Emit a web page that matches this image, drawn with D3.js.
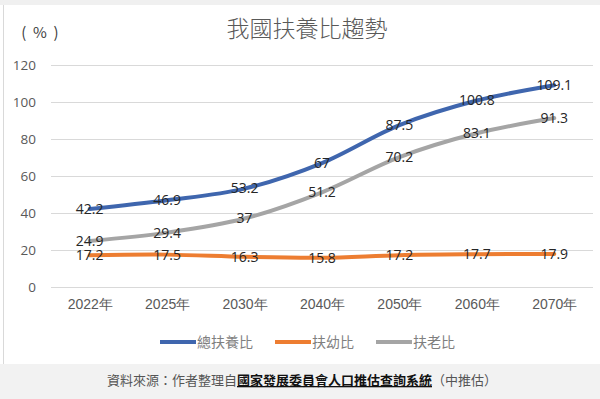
<!DOCTYPE html>
<html>
<head>
<meta charset="utf-8">
<script src="https://cdn.jsdelivr.net/npm/d3@7"></script>
<style>
  body { margin: 0; background: #fff; }
  svg { display: block; font-family: "Noto Sans CJK TC", "Noto Sans", sans-serif; }
</style>
</head>
<body>
<div id="wrapper"></div>
<script>
// data
const years = ["2022年", "2025年", "2030年", "2040年", "2050年", "2060年", "2070年"];
const totalRatio = [42.2, 46.9, 53.2, 67, 87.5, 100.8, 109.1];
const youngRatio = [17.2, 17.5, 16.3, 15.8, 17.2, 17.7, 17.9];
const oldRatio = [24.9, 29.4, 37, 51.2, 70.2, 83.1, 91.3];
const seriesNames = ["總扶養比", "扶幼比", "扶老比"];
const yTicks = [0, 20, 40, 60, 80, 100, 120];

const colors = ["#3f66ae", "#ed7d31", "#a5a5a5"];
const series = [totalRatio, youngRatio, oldRatio].map((v, i) => ({name: seriesNames[i], values: v, color: colors[i]}));

const dimensions = {
  width: 600,
  height: 399,
  margin: {top: 65, left: 51, bottom: 112, right: 7}
};
dimensions.boundedWidth = dimensions.width - dimensions.margin.left - dimensions.margin.right;
dimensions.boundedHeight = dimensions.height - dimensions.margin.top - dimensions.margin.bottom;

const wrapper = d3.select("#wrapper").append("svg")
  .attr("width", dimensions.width)
  .attr("height", dimensions.height);

// page background bits
wrapper.append("rect").attr("x", 0).attr("y", 0).attr("width", 600).attr("height", 5).attr("fill", "#f0f0f0");
wrapper.append("rect").attr("x", 0).attr("y", 364).attr("width", 600).attr("height", 35).attr("fill", "#f2f2f2");
wrapper.append("line").attr("x1", 3.5).attr("x2", 3.5).attr("y1", 5).attr("y2", 364).attr("stroke", "#d9d9d9");

const container = wrapper.append("g")
  .attr("transform", `translate(${dimensions.margin.left}, ${dimensions.margin.top})`);

const xScale = d3.scalePoint().domain(years).range([0, dimensions.boundedWidth]).padding(0.5);
const yScale = d3.scaleLinear().domain([0, 120]).range([dimensions.boundedHeight, 0]);

// gridlines
container.append("g")
  .selectAll("line")
  .data(yTicks)
  .join("line")
  .attr("x1", 0)
  .attr("x2", dimensions.boundedWidth)
  .attr("y1", d => Math.round(yScale(d)) + 0.5)
  .attr("y2", d => Math.round(yScale(d)) + 0.5)
  .attr("stroke", "#d9d9d9");

// y axis
const yAxis = container.append("g")
  .attr("transform", "translate(-15, 0)")
  .call(d3.axisLeft(yScale).tickValues(yTicks).tickSize(0).tickPadding(0));
yAxis.select(".domain").remove();
yAxis.selectAll("text").attr("fill", "#595959").style("font-size", "13.5px").style("font-family", "'Open Sans', sans-serif");

// x axis
const xAxis = container.append("g")
  .attr("transform", `translate(0, ${dimensions.boundedHeight + 12})`)
  .call(d3.axisBottom(xScale).tickSize(0).tickPadding(0));
xAxis.select(".domain").remove();
xAxis.selectAll("text").attr("fill", "#595959").style("font-size", "14px");

// lines
const line = d3.line()
  .x((d, i) => xScale(years[i]))
  .y(d => yScale(d))
  .curve(d3.curveCatmullRom.alpha(0.5));

container.selectAll(".series")
  .data(series)
  .join("path")
  .attr("class", "series")
  .attr("fill", "none")
  .attr("stroke", d => d.color)
  .attr("stroke-width", 4)
  .attr("stroke-linecap", "round")
  .attr("d", d => line(d.values));

// data labels (centered on the points, like the original)
series.forEach(s => {
  container.append("g")
    .selectAll("text")
    .data(s.values)
    .join("text")
    .attr("x", (d, i) => xScale(years[i]))
    .attr("y", d => yScale(d))
    .attr("dy", "0.35em")
    .attr("text-anchor", "middle")
    .attr("fill", "#262626")
    .style("font-size", "14px")
    .style("font-family", "'Open Sans', sans-serif")
    .text(d => d);
});

// title
wrapper.append("text")
  .attr("x", 307)
  .attr("y", 37)
  .attr("text-anchor", "middle")
  .attr("fill", "#595959")
  .style("font-size", "23px")
  .style("font-weight", 300)
  .text("我國扶養比趨勢");

// unit
wrapper.append("text")
  .attr("x", 40)
  .attr("y", 38)
  .attr("text-anchor", "middle")
  .attr("fill", "#404040")
  .style("font-size", "15px")
  .style("white-space", "pre")
  .text("(  %  )");

// legend
const legendX = [160, 275, 376];
const legend = wrapper.append("g").attr("transform", "translate(0, 342)");
series.forEach((s, i) => {
  legend.append("line")
    .attr("x1", legendX[i]).attr("x2", legendX[i] + 36)
    .attr("y1", 0).attr("y2", 0)
    .attr("stroke", s.color).attr("stroke-width", 4);
  legend.append("text")
    .attr("x", legendX[i] + 37)
    .attr("y", 0)
    .attr("dy", "0.35em")
    .attr("fill", "#7f7f7f")
    .style("font-size", "14px")
    .text(s.name);
});

// source note
const note = wrapper.append("text")
  .attr("x", 302)
  .attr("y", 385)
  .attr("text-anchor", "middle")
  .style("font-size", "13px");
note.append("tspan").attr("fill", "#555").text("資料來源：作者整理自");
note.append("tspan").attr("fill", "#111").style("font-weight", "bold")
  .style("text-decoration", "underline").style("text-decoration-color", "#8a3b4a")
  .text("國家發展委員會人口推估查詢系統");
note.append("tspan").attr("fill", "#555").text("（中推估）");
</script>
</body>
</html>
